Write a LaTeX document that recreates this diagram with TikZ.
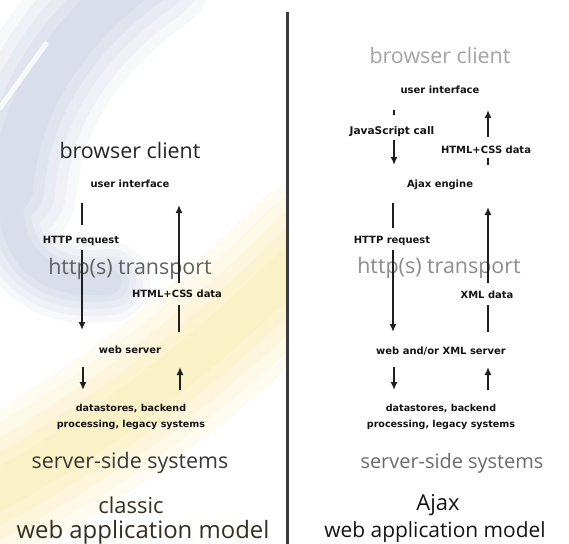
\documentclass[tikz,border=0pt]{standalone}
\usepackage{fontspec}
\setmainfont{Open Sans}
\newfontfamily\lblfont{DejaVu Sans}
\usetikzlibrary{arrows.meta}
\definecolor{swoosh}{RGB}{150,162,196}
\definecolor{ring}{RGB}{246,222,120}
\definecolor{divider}{RGB}{60,60,60}
\definecolor{olive}{RGB}{52,47,30}
\begin{document}
\begin{tikzpicture}[x=1bp,y=-1bp,
  lbl/.style={font=\lblfont\bfseries\fontsize{10}{11}\selectfont, text=black!92, inner sep=0pt, align=center},
  big/.style={font=\fontsize{21.5}{24}\selectfont, inner sep=0pt},
  ttl/.style={font=\fontsize{22}{26}\selectfont, inner sep=0pt},
  arr/.style={line width=1.6bp, draw=black!88, -{Latex[length=8bp,width=7bp]}},
  seg/.style={line width=1.6bp, draw=black!88},
]
\useasboundingbox (0,0) rectangle (569,544);
\fill[white] (0,0) rectangle (569,544);

% ---------- faded logo background (left panel) ----------
\begin{scope}
\clip (0,0) rectangle (286,544);
\foreach \wa/\wb/\c in {130/80/8, 108/66/15, 86/52/22, 64/38/29, 42/24/36}{
  \draw[swoosh!\c!white, line width=\wa bp, line cap=round]
    (150,-30) .. controls (80,20) and (20,90) .. (12,190);
  \draw[swoosh!\c!white, line width=\wb bp, line cap=round]
    (12,190) .. controls (5,260) and (50,290) .. (110,282);
}
\draw[white, line width=5bp, opacity=0.8, line cap=round] (46,44) -- (0,108);
\foreach \wa/\c in {140/10, 115/18, 90/26, 65/34, 40/42}{
  \draw[ring!\c!white, line width=\wa bp, line cap=round]
    (310,250) .. controls (230,330) and (130,420) .. (-20,500);
}
\end{scope}

% ---------- divider ----------
\coordinate (dtop) at (287,12);
\coordinate (dbot) at (287,544);
\draw[divider, line width=3bp] (dtop) -- (dbot);

% ---------- classic model ----------
\node[big, text=black!85] (bcL) at (130,150) {browser client};
\node[lbl] (uiL) at (130,184) {user interface};
\node[lbl] (hrL) at (81,241) {HTTP request};
\node[big, text=black!62] (htL) at (130,269) {http(s) transport};
\node[lbl] (hcL) at (177,294) {HTML+CSS data};
\node[lbl] (wsL) at (130,350) {web server};
\node[lbl, font=\lblfont\bfseries\fontsize{9.6}{16}\selectfont] (dsL) at (131,417) {datastores, backend\\processing, legacy systems};
\node[big, text=black!78] (ssL) at (130,463) {server-side systems};
\node[ttl, text=olive] (clL) at (131,505) {classic};
\node[ttl, text=olive, font=\fontsize{24}{28}\selectfont] (wmL) at (143,532) {web application model};

\coordinate (a1) at (82,203); \coordinate (a2) at (82,225);
\coordinate (a3) at (82,250); \coordinate (a4) at (82,330);
\coordinate (b1) at (179,332); \coordinate (b2) at (179,305);
\coordinate (b3) at (179,283); \coordinate (b4) at (179,205);
\coordinate (c1) at (83,367); \coordinate (c2) at (83,390);
\coordinate (d1) at (180,390); \coordinate (d2) at (180,367);
\draw[seg] (a1) -- (a2);
\draw[arr] (a3) -- (a4);
\draw[seg] (b1) -- (b2);
\draw[arr] (b3) -- (b4);
\draw[arr] (c1) -- (c2);
\draw[arr] (d1) -- (d2);

% ---------- Ajax model ----------
\node[big, text=black!36] (bcR) at (440,55) {browser client};
\node[lbl] (uiR) at (440,90) {user interface};
\node[lbl, font=\lblfont\bfseries\fontsize{10.6}{12}\selectfont] (jsR) at (392,132) {JavaScript call};
\node[lbl] (hcR) at (486,150) {HTML+CSS data};
\node[lbl] (aeR) at (440,185) {Ajax engine};
\node[lbl] (hrR) at (392,241) {HTTP request};
\node[big, text=black!45] (htR) at (439,268) {http(s) transport};
\node[lbl] (xdR) at (487,295) {XML data};
\node[lbl] (wsR) at (441,351) {web and/or XML server};
\node[lbl, font=\lblfont\bfseries\fontsize{9.6}{16}\selectfont] (dsR) at (441,417) {datastores, backend\\processing, legacy systems};
\node[big, text=black!58, font=\fontsize{20}{24}\selectfont] (ssR) at (452,463) {server-side systems};
\node[ttl, text=black!92] (ajR) at (438,505) {Ajax};
\node[ttl, text=black!92, font=\fontsize{21}{25}\selectfont] (wmR) at (435,532) {web application model};

\coordinate (e1) at (394,110); \coordinate (e2) at (394,115);
\coordinate (e3) at (394,140); \coordinate (e4) at (394,165);
\coordinate (f1) at (488,165); \coordinate (f2) at (488,158);
\coordinate (f3) at (488,137); \coordinate (f4) at (488,110);
\coordinate (g1) at (393,203); \coordinate (g2) at (393,228);
\coordinate (g3) at (393,250); \coordinate (g4) at (393,332);
\coordinate (h1) at (488,332); \coordinate (h2) at (488,305);
\coordinate (h3) at (488,283); \coordinate (h4) at (488,207);
\coordinate (i1) at (394,367); \coordinate (i2) at (394,390);
\coordinate (j1) at (488,390); \coordinate (j2) at (488,367);
\draw[seg] (e1) -- (e2);
\draw[arr] (e3) -- (e4);
\draw[seg] (f1) -- (f2);
\draw[arr] (f3) -- (f4);
\draw[seg] (g1) -- (g2);
\draw[arr] (g3) -- (g4);
\draw[seg] (h1) -- (h2);
\draw[arr] (h3) -- (h4);
\draw[arr] (i1) -- (i2);
\draw[arr] (j1) -- (j2);
\end{tikzpicture}
\end{document}
